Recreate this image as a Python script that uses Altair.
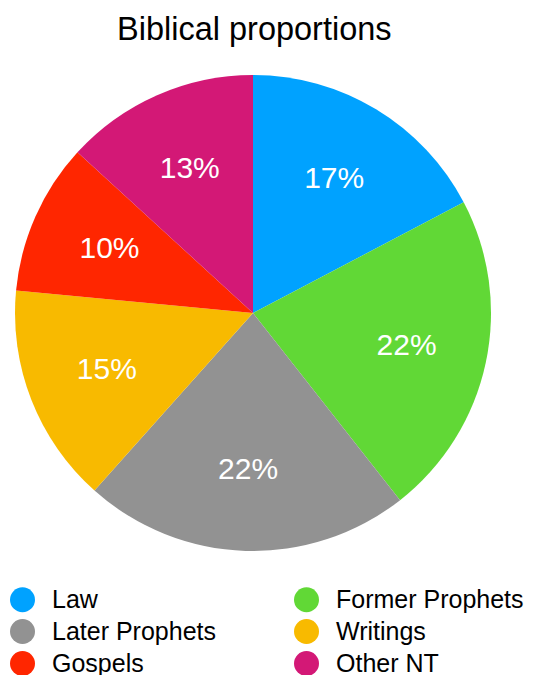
import altair as alt
import pandas as pd

categories = ["Law", "Former Prophets", "Later Prophets", "Writings", "Gospels", "Other NT"]
shares = [17.3, 22.1, 22.2, 14.9, 10.3, 13.2]
labels = ["17%", "22%", "22%", "15%", "10%", "13%"]
colors = ["#00A2FF", "#61D836", "#929292", "#F8BA00", "#FF2600", "#D31876"]
# legend entries, listed column by column (2 columns x 3 rows)
legend_order = ["Law", "Later Prophets", "Gospels", "Former Prophets", "Writings", "Other NT"]

df = pd.DataFrame({
    "category": categories,
    "share": shares,
    "label": labels,
    "idx": list(range(len(categories))),
})

FONT = "Liberation Sans"
TOP = 50
CX, CY = 253 - 8, 313 - 8 - TOP

base = alt.Chart(df).encode(
    theta=alt.Theta("share:Q", stack=True),
    order=alt.Order("idx:Q"),
)

arcs = base.mark_arc(outerRadius=238, stroke=None).encode(
    x=alt.value(CX),
    y=alt.value(CY),
    color=alt.Color(
        "category:N",
        scale=alt.Scale(domain=categories, range=colors),
        legend=alt.Legend(
            title=None,
            values=legend_order,
            orient="none",
            legendX=2,
            legendY=529,
            columns=2,
            columnPadding=78,
            rowPadding=6,
            symbolType="circle",
            symbolSize=625,
            symbolStrokeWidth=0,
            labelFontSize=25,
            labelFont=FONT,
            labelColor="#000000",
            labelOffset=17,
            labelLimit=400,
            labelExpr="datum.label == 'Gospels' ? '\u00a0Gospels' : datum.label",
        ),
    ),
)

texts = base.mark_text(
    radius=157, fontSize=30, font=FONT, color="white", align="center", baseline="middle"
).encode(
    x=alt.value(CX),
    y=alt.value(CY),
    text="label:N",
)

chart = alt.layer(arcs, texts).properties(
    width=530,
    height=667 - TOP,
    padding={"left": 0, "right": 0, "top": TOP, "bottom": 0},
    autosize=alt.AutoSizeParams(type="none"),
    title=alt.TitleParams(
        "Biblical proportions",
        fontSize=32.5,
        font=FONT,
        fontWeight="normal",
        color="#000000",
        anchor="start",
        dx=109,
        offset=12,
    ),
).configure_view(stroke=None)

chart.save("out.html", embed_options={"renderer": "svg", "actions": False})
